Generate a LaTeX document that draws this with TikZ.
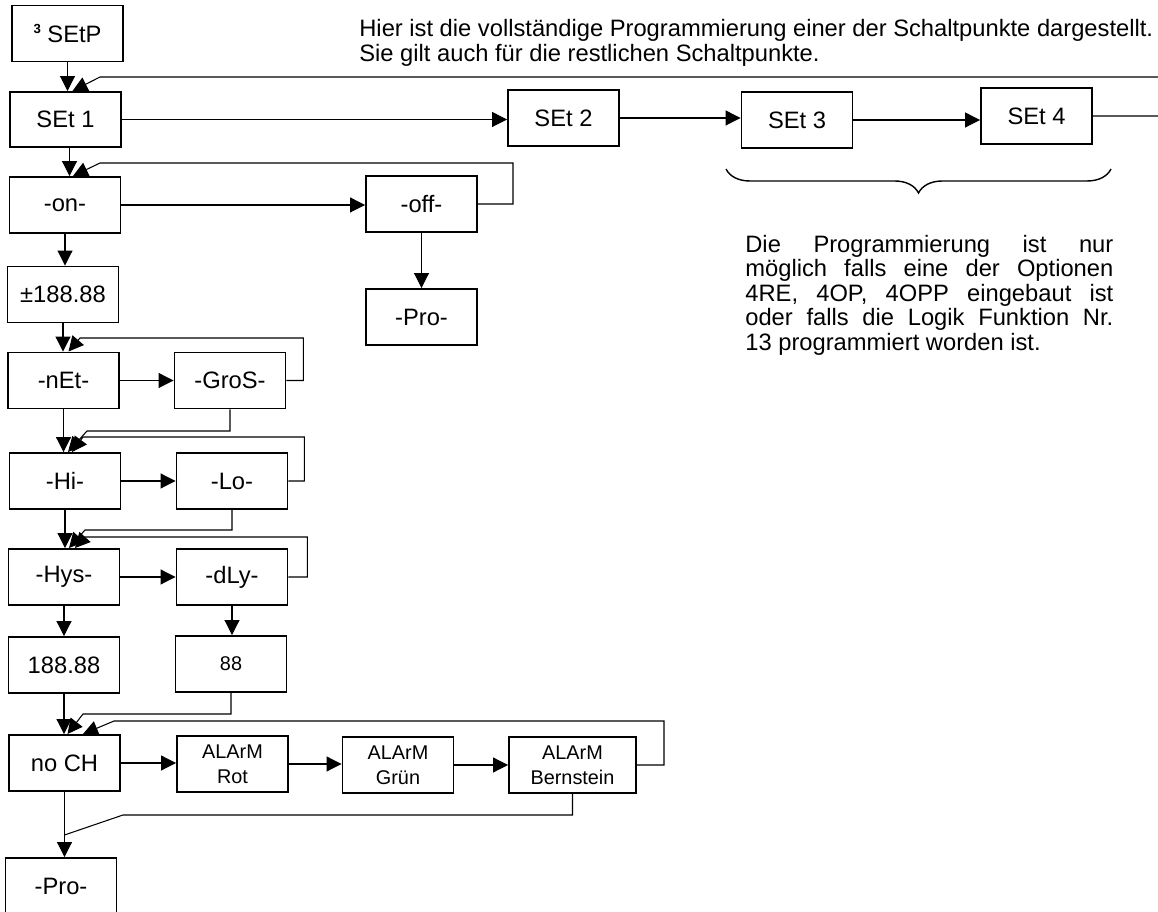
\documentclass[tikz,border=0pt]{standalone}
\usepackage{fontspec}
\setmainfont{Liberation Sans}
\usetikzlibrary{arrows.meta,decorations.pathreplacing}

\begin{document}
\begin{tikzpicture}
    % Styles
    \tikzstyle{block} = [draw, rectangle, line width=1.1pt, minimum width=2.22cm, minimum height=1.12cm, inner sep=0pt, align=center, font=\fontsize{13.5}{16}\selectfont]
    \tikzstyle{smallblock} = [block, font=\fontsize{11.3}{14}\selectfont]
    \tikzstyle{link} = [line width=0.6pt]
    \tikzstyle{flow} = [link, -{Triangle[length=8.5pt, width=8.5pt]}]
    \useasboundingbox (0,0) rectangle (23.16,18.22);

    % Nodes
    \node[block] (setp) at (1.35,17.55) {\raisebox{5.4pt}{\fontsize{7.5}{8}\selectfont\bfseries 3} SEtP};
    \node[block, minimum height=1.1cm] (set1) at (1.31,15.83) {SEt 1};
    \node[block] (set2) at (11.27,15.86) {SEt 2};
    \node[block] (set3) at (15.94,15.82) {SEt 3};
    \node[block] (set4) at (20.73,15.90) {SEt 4};
    \node[block] (on) at (1.30,14.12) {-on-};
    \node[block] (off) at (8.43,14.14) {-off-};
    \node[block] (prooff) at (8.43,11.88) {-Pro-};
    \node[block] (range) at (1.26,12.33) {±188.88};
    \node[block] (net) at (1.27,10.61) {-nEt-};
    \node[block] (gros) at (4.60,10.61) {-GroS-};
    \node[block] (hi) at (1.30,8.60) {-Hi-};
    \node[block] (lo) at (4.64,8.60) {-Lo-};
    \node[block] (hys) at (1.28,6.68) {-Hys-};
    \node[block] (dly) at (4.64,6.68) {-dLy-};
    \node[block] (hysval) at (1.28,4.92) {188.88};
    \node[smallblock] (dlyval) at (4.62,4.94) {88};
    \node[block] (noch) at (1.29,2.96) {no CH};
    \node[smallblock] (rot) at (4.65,2.94) {ALArM\\Rot};
    \node[smallblock] (gruen) at (7.96,2.92) {ALArM\\Grün};
    \node[smallblock, minimum width=2.54cm] (bern) at (11.45,2.92) {ALArM\\Bernstein};
    \node[block] (pro) at (1.22,0.50) {-Pro-};
    \coordinate (merge) at (1.29,1.52);

    % Notes
    \node[anchor=north west, inner sep=0pt, align=left, font=\fontsize{13.5}{14.2}\selectfont] (note) at (7.18,17.84)
        {Hier ist die vollständige Programmierung einer der Schaltpunkte dargestellt.\\Sie gilt auch für die restlichen Schaltpunkte.};
    \node[anchor=north west, inner sep=0pt, text width=7.36cm, align=justify, font=\fontsize{13.5}{13.9}\selectfont] (cond) at (14.90,13.52)
        {Die Programmierung ist nur\linebreak möglich falls eine der Optionen\linebreak 4RE, 4OP, 4OPP eingebaut ist\linebreak oder falls die Logik Funktion Nr.\linebreak 13 programmiert worden ist.};
    \draw[decorate, decoration={brace, mirror, amplitude=0.48cm}, line width=0.8pt] (14.52,14.84) -- (22.22,14.84);

    % Flow arrows
    \draw[flow] (setp.south) -- (setp.south |- set1.north);
    \draw[flow] (set1.east) -- (set1.east -| set2.west);
    \draw[flow] (set2.east) -- (set2.east -| set3.west);
    \draw[flow] (set3.east) -- (set3.east -| set4.west);
    \draw[flow] (set4.east) -- (23.40,15.90) |- (2.00,16.68) -- ([xshift=0.14cm]set1.north);
    \draw[flow] ([xshift=0.08cm]set1.south) -- ([xshift=0.08cm]set1.south |- on.north);
    \draw[flow] (on.east) -- (on.east -| off.west);
    \draw[flow] (off) -- (prooff);
    \draw[flow] (off.east) -- ++(0.70,0) |- (2.00,14.96) -- ([xshift=0.16cm]on.north);
    \draw[flow] (on.south) -- (on.south |- range.north);
    \draw[flow] (range.south) -- (range.south |- net.north);
    \draw[flow] (net.east) -- (net.east -| gros.west);
    \draw[flow] (gros.east) -- ++(0.34,0) |- (1.60,11.46) -- ([xshift=0.10cm]net.north);
    \draw[flow] (net.south) -- (net.south |- hi.north);
    \draw[flow] (gros.south) |- (1.74,9.60) -- ([xshift=0.06cm]hi.north);
    \draw[flow] (hi.east) -- (hi.east -| lo.west);
    \draw[flow] (lo.east) -- ++(0.32,0) |- (1.66,9.48) -- ([xshift=0.14cm]hi.north);
    \draw[flow] (hi.south) -- (hi.south |- hys.north);
    \draw[flow] (lo.south) |- (1.70,7.62) -- ([xshift=0.10cm]hys.north);
    \draw[flow] (hys.east) -- (hys.east -| dly.west);
    \draw[flow] (dly.east) -- ++(0.38,0) |- (1.70,7.48) -- ([xshift=0.22cm]hys.north);
    \draw[flow] (hys.south) -- (hys.south |- hysval.north);
    \draw[flow] (dly.south) -- (dly.south |- dlyval.north);
    \draw[flow] (hysval.south) -- (hysval.south |- noch.north);
    \draw[flow] (dlyval.south) |- (1.66,3.94) -- ([xshift=0.06cm]noch.north);
    \draw[flow] (noch.east) -- (noch.east -| rot.west);
    \draw[flow] (rot.east) -- (rot.east -| gruen.west);
    \draw[flow] (gruen.east) -- (gruen.east -| bern.west);
    \draw[flow] (bern.east) -- ++(0.54,0) |- (2.28,3.80) -- ([xshift=0.37cm]noch.north);
    \draw[flow] (noch.south) -- (noch.south |- pro.north);
    \draw[link] (bern.south) |- (2.46,1.92) -- (merge);
\end{tikzpicture}
\end{document}
